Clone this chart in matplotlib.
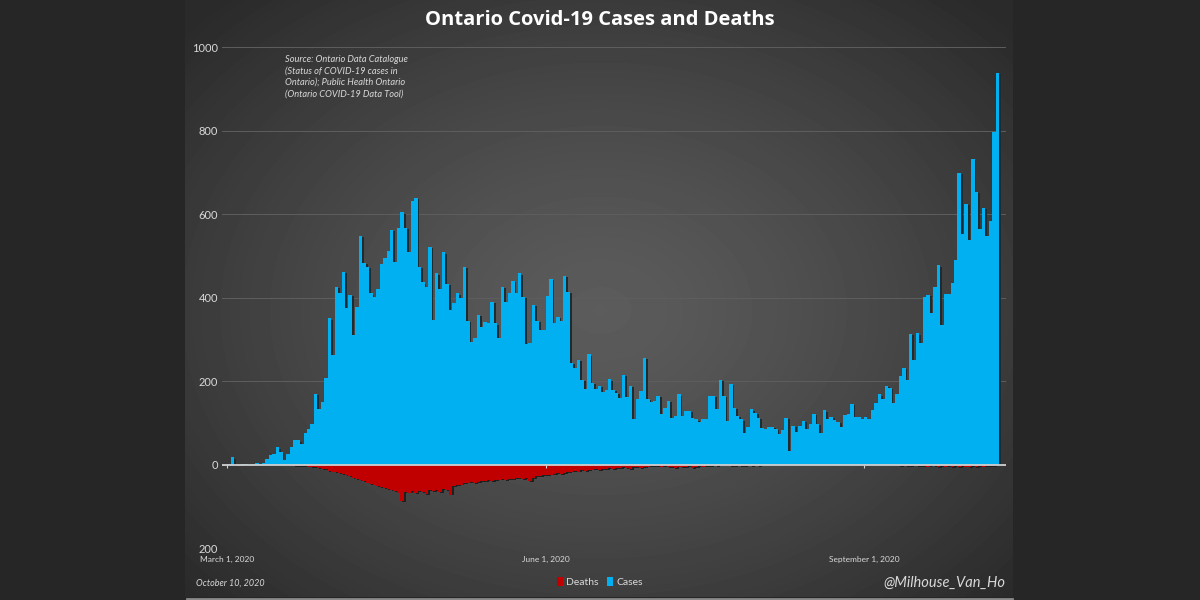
import numpy as np
import matplotlib.pyplot as plt
from matplotlib.patches import Patch
from matplotlib.lines import Line2D
from matplotlib.ticker import FuncFormatter

plt.rcParams['font.family'] = ['Lato', 'DejaVu Sans']

# daily new cases, March 1 2020 .. October 9 2020
cases = [3, 18, 0, 1, 2, 3, 1, 2, 5, 2,
         5, 15, 23, 27, 42, 31, 13, 26, 43, 59,
         59, 50, 77, 85, 99, 170, 135, 151, 209, 351,
         263, 426, 411, 462, 377, 407, 311, 379, 549, 483,
         475, 411, 401, 421, 481, 495, 513, 563, 485, 567,
         605, 567, 511, 631, 639, 475, 437, 425, 523, 347,
         459, 421, 509, 433, 371, 387, 411, 399, 475, 345,
         295, 305, 359, 331, 343, 340, 391, 339, 305, 427,
         391, 411, 441, 412, 459, 403, 289, 291, 383, 345,
         323, 324, 404, 445, 339, 355, 345, 452, 415, 245,
         231, 251, 203, 183, 265, 197, 183, 189, 175, 179,
         205, 179, 173, 161, 215, 163, 189, 111, 159, 177,
         257, 159, 151, 153, 165, 121, 137, 153, 113, 117,
         169, 117, 129, 129, 113, 109, 102, 111, 111, 165,
         165, 135, 203, 165, 105, 195, 137, 117, 109, 77,
         90, 133, 125, 113, 89, 85, 90, 91, 86, 75,
         83, 113, 34, 93, 79, 93, 105, 85, 98, 123,
         99, 77, 131, 111, 115, 107, 103, 90, 119, 122,
         147, 114, 114, 111,
         114, 111, 132, 148, 169, 158, 190, 185, 149, 170, 213, 232, 204, 313, 251, 315,
         293, 401, 407, 365, 425, 478, 335, 409, 409, 435, 491, 700, 554, 625,
         538, 732, 653, 566, 615, 548, 583, 797, 939]

# daily deaths (drawn below zero)
deaths = [0, 0, 0, 0, 0, 0, 0, 0, 0, 0,
          0, 1, 0, 0, 0, 1, 1, 0, 1, 2,
          2, 3, 3, 4, 5, 6, 8, 9, 10, 14,
          16, 18, 20, 22, 25, 27, 31, 33, 36, 38,
          42, 45, 47, 50, 52, 55, 57, 60, 62, 66,
          86, 64, 66, 63, 68, 62, 65, 70, 61, 62,
          60, 64, 58, 60, 71, 50, 48, 47, 44, 42,
          41, 43, 40, 38, 39, 37, 38, 36, 35, 34,
          36, 33, 34, 32, 31, 33, 32, 38, 31, 27,
          26, 25, 24, 23, 21, 20, 22, 19, 18, 16,
          15, 16, 13, 14, 12, 11, 10, 12, 9, 10,
          8, 9, 7, 8, 6, 7, 9, 5, 6, 8,
          5, 4, 3, 2, 3, 4, 2, 6, 5, 7,
          4, 5, 6, 3, 7, 5, 2, 4, 3, 2,
          1, 2, 1, 0, 1, 2, 3, 1, 2, 3,
          1, 2, 1, 3, 1, 0, 1, 0, 1, 0,
          1, 0, 0, 1, 0, 1, 0, 0, 1, 0,
          0, 1, 0, 0, 1, 0, 0, 1, 0, 0,
          1, 0, 0, 1, 0, 0, 1, 0, 0, 1,
          0, 1, 0, 1, 2, 1, 2, 3, 1, 2,
          3, 2, 4, 1, 3, 5, 2, 4, 3, 6,
          2, 5, 3, 4, 6, 3, 5, 2, 4, 3,
          2, 3, 1]

tick_days = [0, 92, 184]
tick_labels = ["March 1, 2020", "June 1, 2020", "September 1, 2020"]

days = np.arange(len(cases))
cases = np.array(cases)
deaths = np.array(deaths)

fig = plt.figure(figsize=(12, 6), dpi=100, facecolor='#262626')

# radial gradient panel behind the chart
bg = fig.add_axes([185/1200, 3/600, 828/1200, 597/600])
yy, xx = np.mgrid[0:597, 0:828]
r = np.sqrt(((xx - 415) / 560.0)**2 + ((yy - 310) / 420.0)**2)
shade = 0.36 - 0.195 * np.clip(r, 0, 1)**1.3
bg.imshow(shade, cmap='gray', vmin=0, vmax=1, aspect='auto', interpolation='bilinear')
bg.axis('off')
fig.add_artist(Line2D([187/1200, 1012/1200], [1.5/600, 1.5/600], color='#8a8a8a', lw=2,
                      transform=fig.transFigure))

ax = fig.add_axes([222.2/1200, 51.5/600, 783.7/1200, 501.2/600])
ax.patch.set_alpha(0)

# shadows first, then bars
ax.bar(days + 0.5, cases, bottom=-3, width=1, align='edge', color='#1d2b33', linewidth=0)
ax.bar(days + 0.5, -deaths, bottom=-2, width=1, align='edge', color='#1f1f1f', linewidth=0)
ax.bar(days, cases, width=1, align='edge', color='#00B0F0', linewidth=0)
ax.bar(days, -deaths, width=1, align='edge', color='#C00000', linewidth=0)

ax.axhline(0, color='#d0d0d0', lw=1.3)
ax.vlines(tick_days, -7, 0, color='#d0d0d0', lw=0.8)

ax.set_xlim(-1.5, 225)
ax.set_ylim(-200, 1000)
ax.set_yticks(range(-200, 1001, 200))
ax.yaxis.set_major_formatter(FuncFormatter(lambda v, p: f'{abs(int(v))}'))
ax.grid(axis='y', color='#5e5e5e', lw=0.7)
ax.set_axisbelow(True)
ax.set_xticks(tick_days)
ax.set_xticklabels(tick_labels)
ax.tick_params(axis='y', length=0, pad=3, labelsize=8, labelcolor='#d9d9d9')
ax.tick_params(axis='x', length=0, pad=5, labelsize=6, labelcolor='#d9d9d9')
for s in ax.spines.values():
    s.set_visible(False)

fig.text(0.5, 1 - 20/600, 'Ontario Covid-19 Cases and Deaths', ha='center', va='center',
         fontsize=14.5, fontweight='bold', color='white', family=['Open Sans', 'DejaVu Sans'])
fig.text(285/1200, 1 - 55/600,
         'Source: Ontario Data Catalogue\n(Status of COVID-19 cases in\nOntario); Public Health Ontario\n(Ontario COVID-19 Data Tool)',
         ha='left', va='top', fontsize=6.7, style='italic', color='#d9d9d9', linespacing=1.35)

fig.text(196/1200, 1 - 583/600, 'October 10, 2020', ha='left', va='center',
         fontsize=6.5, style='italic', color='#d9d9d9')
fig.text(1005/1200, 1 - 583/600, '@Milhouse_Van_Ho', ha='right', va='center',
         fontsize=10.5, style='italic', color='#d9d9d9')

handles = [Patch(facecolor='#C00000'), Patch(facecolor='#00B0F0')]
fig.legend(handles, ['Deaths', 'Cases'], loc='center', bbox_to_anchor=(600/1200, 1 - 582/600),
           ncol=2, frameon=False, fontsize=7.5, labelcolor='#d9d9d9', handlelength=0.6,
           handleheight=0.9, handletextpad=0.3, columnspacing=0.8)

fig.savefig('out.png', dpi=100, facecolor=fig.get_facecolor())
